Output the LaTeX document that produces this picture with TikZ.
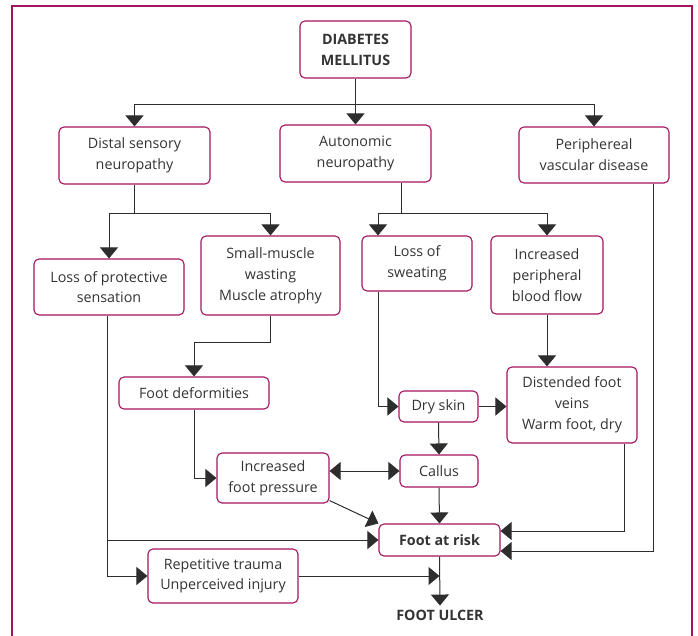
\documentclass[tikz,border=0pt]{standalone}
\usepackage{fontspec}
\setmainfont{Open Sans}
\usepackage{xcolor}
\usetikzlibrary{arrows.meta,positioning,calc}
\definecolor{boxred}{RGB}{163,20,95}
\definecolor{linegray}{RGB}{45,45,45}

\begin{document}
\begin{tikzpicture}[x=1pt, y=-1pt,
  box/.style={draw=boxred, line width=1.1pt, rounded corners=5pt, align=center, inner sep=0pt,
    font=\fontsize{14.3}{20.8}\selectfont, text=black!80},
  link/.style={draw=linegray, line width=1pt},
  arr/.style={link, -{Triangle[width=18pt,length=11pt]}},
  arrboth/.style={link, {Triangle[width=18pt,length=11pt]}-{Triangle[width=18pt,length=11pt]}}]

\useasboundingbox (0,0) rectangle (698,635);
\draw[boxred, line width=1.1pt] (12,640) -- (12,6) -- (692,6) -- (692,640);

% Top level
\node[box, minimum width=111pt, minimum height=57pt, font=\fontsize{14.3}{20.8}\selectfont\bfseries] (dm) at (355.5,49.5) {DIABETES\\MELLITUS};
\node[box, minimum width=151pt, minimum height=57pt] (distal) at (134.5,155.5) {Distal sensory\\neuropathy};
\node[box, minimum width=151pt, minimum height=57pt] (auto) at (355.5,153.5) {Autonomic\\neuropathy};
\node[box, minimum width=150pt, minimum height=56pt] (pvd) at (594,155) {Periphereal\\vascular disease};

% Second level
\node[box, minimum width=150pt, minimum height=56pt] (lps) at (109,287) {Loss of protective\\sensation};
\node[box, minimum width=139pt, minimum height=79pt] (smw) at (270.5,275.5) {Small-muscle\\wasting\\Muscle atrophy};
\node[box, minimum width=110pt, minimum height=55pt] (los) at (417,263.5) {Loss of\\sweating};
\node[box, minimum width=112pt, minimum height=78pt] (ipbf) at (547,275) {Increased\\peripheral\\blood flow};

% Lower level
\node[box, minimum width=150pt, minimum height=32pt] (fdef) at (194,393) {Foot deformities};
\node[box, minimum width=79pt, minimum height=31pt] (dry) at (438.5,406.5) {Dry skin};
\node[box, minimum width=130pt, minimum height=76pt] (dist) at (572,405) {Distended foot\\veins\\Warm foot, dry};
\node[box, minimum width=112pt, minimum height=50pt] (ifp) at (273,478) {Increased\\foot pressure};
\node[box, minimum width=78pt, minimum height=32pt] (callus) at (439,471) {Callus};
\node[box, minimum width=121pt, minimum height=32pt, font=\fontsize{14.3}{20.8}\selectfont\bfseries] (far) at (439.5,540) {Foot at risk};
\node[box, minimum width=150pt, minimum height=54pt] (rep) at (223,576) {Repetitive trauma\\Unperceived injury};
\node[font=\fontsize{14.3}{20.8}\selectfont\bfseries, text=black!80, inner sep=0pt] (ulcer) at (440,615) {FOOT ULCER};

% Junctions
\coordinate (j1) at (355.5,104);
\coordinate (j2) at (134.5,213);
\coordinate (j3) at (401,213);
\coordinate (j4) at (270.5,342);

% Connectors from the top
\draw[link] (dm.south) -- (j1);
\draw[arr] (j1) -| (distal.north);
\draw[arr] (j1) -- (auto.north);
\draw[arr] (j1) -| (pvd.north);

\draw[link] (distal.south) -- (j2);
\draw[arr] (j2) -| (lps.north);
\draw[arr] (j2) -| (smw.north);

\draw[link] (auto.south -| j3) -- (j3);
\draw[arr] (j3) -| ([xshift=-39pt]los.north);
\draw[arr] (j3) -| (ipbf.north);

% Middle connectors
\draw[link] (smw.south) -- (j4);
\draw[arr] (j4) -| (fdef.north);
\draw[arr] (fdef.south) |- (ifp.west);
\draw[arr] ([xshift=-39pt]los.south) |- (dry.west);
\draw[arr] (ipbf.south) -- (ipbf.south |- dist.north);
\draw[arr] (dry.east) -- (dry.east -| dist.west);
\draw[arr] (dry.south) -- (callus.north);
\draw[arrboth] (ifp.east |- callus.west) -- (callus.west);

% Into foot at risk
\draw[arr] (callus.south) -- (far.north);
\draw[arr] ([yshift=3pt]ifp.south east) -- (far.north west);
\draw[arr] ([xshift=52pt]dist.south) |- ([yshift=9pt]far.east);
\draw[arr] ([xshift=59pt]pvd.south) |- ([yshift=-11pt]far.east);
\draw[arr] ([xshift=-2pt]lps.south) |- (rep.west);
\draw[arr] ([xshift=-2pt]lps.south |- far.west) -- (far.west);
\draw[arr] (rep.east) -- (rep.east -| far.south);
\draw[arr] (far.south) -- ([yshift=4pt]ulcer.north);

\end{tikzpicture}
\end{document}
